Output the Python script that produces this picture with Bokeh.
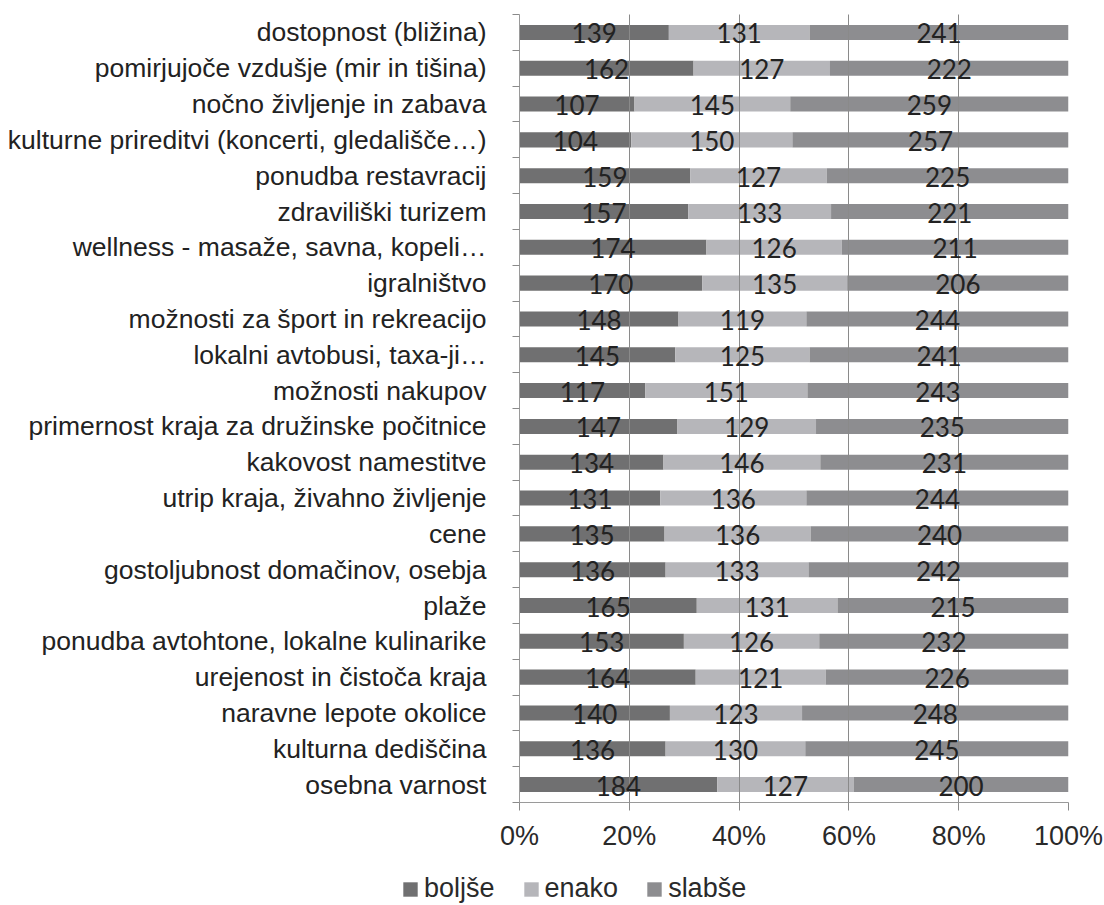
from bokeh.plotting import figure
from bokeh.models import (ColumnDataSource, Range1d, FixedTicker, LinearAxis,
                          Legend, LegendItem)
from bokeh.core.properties import value
from bokeh.embed import file_html
from bokeh.resources import INLINE

categories = [
    "dostopnost (bližina)",
    "pomirjujoče vzdušje (mir in tišina)",
    "nočno življenje in zabava",
    "kulturne prireditvi (koncerti, gledališče…)",
    "ponudba restavracij",
    "zdraviliški turizem",
    "wellness - masaže, savna, kopeli…",
    "igralništvo",
    "možnosti za šport in rekreacijo",
    "lokalni avtobusi, taxa-ji…",
    "možnosti nakupov",
    "primernost kraja za družinske počitnice",
    "kakovost namestitve",
    "utrip kraja, živahno življenje",
    "cene",
    "gostoljubnost domačinov, osebja",
    "plaže",
    "ponudba avtohtone, lokalne kulinarike",
    "urejenost in čistoča kraja",
    "naravne lepote okolice",
    "kulturna dediščina",
    "osebna varnost",
]
boljse = [139, 162, 107, 104, 159, 157, 174, 170, 148, 145, 117,
          147, 134, 131, 135, 136, 165, 153, 164, 140, 136, 184]
enako = [131, 127, 145, 150, 127, 133, 126, 135, 119, 125, 151,
         129, 146, 136, 136, 133, 131, 126, 121, 123, 130, 127]
slabse = [241, 222, 259, 257, 225, 221, 211, 206, 244, 241, 243,
          235, 231, 244, 240, 242, 215, 232, 226, 248, 245, 200]
series_names = ["boljše", "enako", "slabše"]
x_ticks = [0, 20, 40, 60, 80, 100]

colors = ["#707071", "#b6b6ba", "#8d8d90"]

n = len(categories)
ypos = [i + 0.5 for i in range(n)]
tot = [a + b + c for a, b, c in zip(boljse, enako, slabse)]
p1 = [100 * a / t for a, t in zip(boljse, tot)]
p2 = [100 * b / t for b, t in zip(enako, tot)]
p3 = [100 * c / t for c, t in zip(slabse, tot)]
l1 = [0] * n
r1 = p1
l2 = r1
r2 = [a + b for a, b in zip(p1, p2)]
l3 = r2
r3 = [a + b + c for a, b, c in zip(p1, p2, p3)]

src = ColumnDataSource(dict(
    y=ypos,
    l1=l1, r1=r1, l2=l2, r2=r2, l3=l3, r3=r3,
    c1=[(a + b) / 2 for a, b in zip(l1, r1)],
    c2=[(a + b) / 2 for a, b in zip(l2, r2)],
    c3=[(a + b) / 2 for a, b in zip(l3, r3)],
    t1=[str(v) for v in boljse],
    t2=[str(v) for v in enako],
    t3=[str(v) for v in slabse],
))

p = figure(frame_width=549, frame_height=788, output_backend="svg",
           toolbar_location=None,
           x_range=Range1d(0, 100), y_range=Range1d(n, 0),
           x_axis_location=None, y_axis_location=None,
           min_border_left=519, min_border_right=36,
           min_border_top=14, min_border_bottom=50)
p.outline_line_color = None
p.background_fill_color = "white"
p.border_fill_color = "white"

# vertical gridlines at every 20 %, drawn across the bars
p.xgrid.ticker = FixedTicker(ticks=x_ticks)
p.xgrid.grid_line_color = "#8a8a8a"
p.xgrid.grid_line_width = 1
p.xgrid.level = "guide"
p.ygrid.grid_line_color = None

bh = 0.42
g1 = p.hbar(y="y", left="l1", right="r1", height=bh, source=src,
            fill_color=colors[0], line_color=None)
g2 = p.hbar(y="y", left="l2", right="r2", height=bh, source=src,
            fill_color=colors[1], line_color=None)
g3 = p.hbar(y="y", left="l3", right="r3", height=bh, source=src,
            fill_color=colors[2], line_color=None)

for cx, tx in (("c1", "t1"), ("c2", "t2"), ("c3", "t3")):
    t = p.text(x=cx, y="y", text=tx, source=src, text_align="center",
               text_baseline="middle", text_font=value("Lato"),
               text_font_size="26px", text_color="#222222", y_offset=1)
    t.level = "annotation"

# bottom axis with percentage labels
xaxis = LinearAxis(ticker=FixedTicker(ticks=x_ticks),
                   major_label_overrides={t: f"{t}%" for t in x_ticks})
xaxis.axis_line_color = "#9a9a9a"
xaxis.major_tick_line_color = "#8a8a8a"
xaxis.major_tick_out = 8
xaxis.major_tick_in = 0
xaxis.minor_tick_line_color = None
xaxis.major_label_text_font = "Liberation Sans"
xaxis.major_label_text_font_size = "27px"
xaxis.major_label_text_color = "#2a2a2a"
xaxis.major_label_standoff = 10
p.add_layout(xaxis, "below")

# left category axis, ticks between categories
yaxis = LinearAxis(ticker=FixedTicker(ticks=ypos, minor_ticks=list(range(n + 1))),
                   major_label_overrides={y: c for y, c in zip(ypos, categories)})
yaxis.axis_line_color = "#9a9a9a"
yaxis.major_tick_line_color = None
yaxis.major_tick_out = 0
yaxis.major_tick_in = 0
yaxis.minor_tick_line_color = "#8a8a8a"
yaxis.minor_tick_out = 7
yaxis.minor_tick_in = 0
yaxis.major_label_text_font = "Liberation Sans"
yaxis.major_label_text_font_size = "26.5px"
yaxis.major_label_text_color = "#222222"
yaxis.major_label_standoff = 26
p.add_layout(yaxis, "left")

# separate legend strip rendered under the chart; swatch renderers hold
# no drawable points, they only carry the series fill colours
leg = figure(width=1104, height=53, output_backend="svg", toolbar_location=None,
             x_range=Range1d(0, 1), y_range=Range1d(0, 1),
             x_axis_location=None, y_axis_location=None,
             min_border=0)
leg.outline_line_color = None
leg.grid.grid_line_color = None
leg.border_fill_color = "white"
blank = ColumnDataSource(dict(y=[float("nan")], left=[float("nan")],
                              right=[float("nan")]))
swatches = [leg.hbar(y="y", left="left", right="right", height=1, source=blank,
                     fill_color=c, line_color=None) for c in colors]
legend = Legend(items=[LegendItem(label=s, renderers=[g])
                       for s, g in zip(series_names, swatches)],
                orientation="horizontal", location=(401, 2),
                glyph_width=18, glyph_height=18, label_standoff=5,
                spacing=27, padding=0, margin=0,
                label_text_font="Liberation Sans", label_text_font_size="27px",
                label_text_color="#2a2a2a", border_line_color=None,
                background_fill_alpha=0)
leg.add_layout(legend, "center")

open("out.html", "w").write(file_html([p, leg], INLINE))
